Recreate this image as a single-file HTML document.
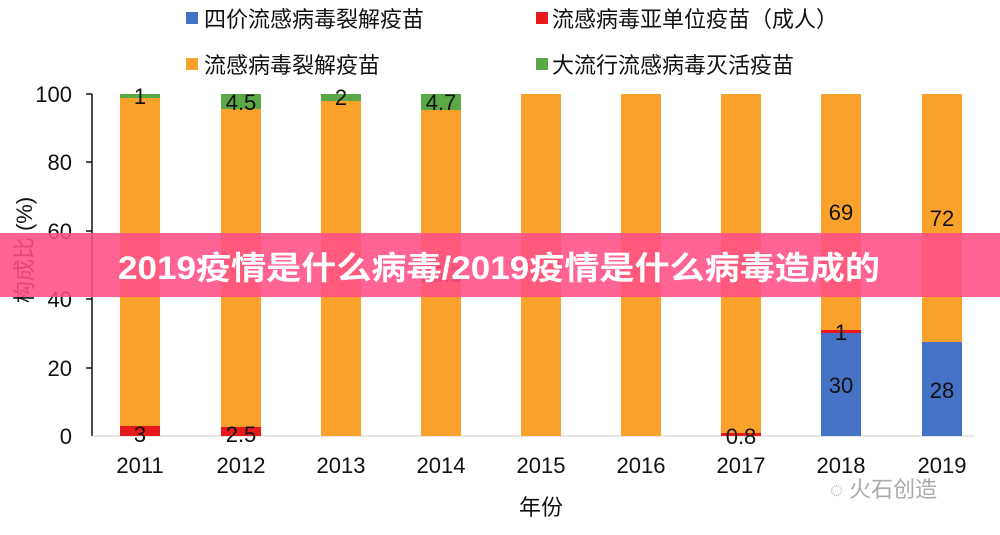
<!DOCTYPE html>
<html><head><meta charset="utf-8"><style>
body{margin:0;width:1000px;height:530px;background:#fff;overflow:hidden;}
svg text{font-family:"Liberation Sans","Noto Sans CJK SC",sans-serif;}
</style></head><body>
<svg width="1000" height="530" xmlns="http://www.w3.org/2000/svg">
<g font-size="22" fill="#111">
<rect x="186" y="12" width="12" height="12" fill="#4472c4"/><text x="204" y="27">四价流感病毒裂解疫苗</text>
<rect x="536" y="12" width="12" height="12" fill="#e8191b"/><text x="552" y="27">流感病毒亚单位疫苗（成人）</text>
<rect x="186" y="58" width="12" height="12" fill="#f9a12b"/><text x="204" y="73">流感病毒裂解疫苗</text>
<rect x="536" y="58" width="12" height="12" fill="#5aa846"/><text x="552" y="73">大流行流感病毒灭活疫苗</text>
</g>
<line x1="92" y1="94" x2="92" y2="436" stroke="#111" stroke-width="1.5"/>
<line x1="92" y1="436" x2="975" y2="436" stroke="#ccc" stroke-width="1"/>
<g stroke="#111" stroke-width="1.5">
<line x1="86" y1="94" x2="92" y2="94"/><line x1="86" y1="162" x2="92" y2="162"/><line x1="86" y1="231" x2="92" y2="231"/><line x1="86" y1="299" x2="92" y2="299"/><line x1="86" y1="368" x2="92" y2="368"/></g>
<g font-size="22" fill="#111" text-anchor="end">
<text x="72" y="102">100</text><text x="72" y="170">80</text><text x="72" y="239">60</text><text x="72" y="307">40</text><text x="72" y="376">20</text><text x="72" y="444">0</text></g>
<text transform="translate(32,250) rotate(-90)" font-size="22" text-anchor="middle" fill="#111">构成比 (%)</text>
<g>
<rect x="120" y="94" width="40" height="4" fill="#5aa846"/><rect x="120" y="98" width="40" height="328" fill="#f9a12b"/><rect x="120" y="426" width="40" height="10" fill="#e8191b"/>
<rect x="221" y="94" width="40" height="15" fill="#5aa846"/><rect x="221" y="109" width="40" height="318" fill="#f9a12b"/><rect x="221" y="427" width="40" height="9" fill="#e8191b"/>
<rect x="321" y="94" width="40" height="7" fill="#5aa846"/><rect x="321" y="101" width="40" height="335" fill="#f9a12b"/>
<rect x="421" y="94" width="40" height="16" fill="#5aa846"/><rect x="421" y="110" width="40" height="326" fill="#f9a12b"/>
<rect x="521" y="94" width="40" height="342" fill="#f9a12b"/>
<rect x="621" y="94" width="40" height="342" fill="#f9a12b"/>
<rect x="721" y="94" width="40" height="339" fill="#f9a12b"/><rect x="721" y="433" width="40" height="3" fill="#e8191b"/>
<rect x="821" y="94" width="40" height="236" fill="#f9a12b"/><rect x="821" y="330" width="40" height="3" fill="#e8191b"/><rect x="821" y="333" width="40" height="103" fill="#4472c4"/>
<rect x="922" y="94" width="40" height="248" fill="#f9a12b"/><rect x="922" y="342" width="40" height="94" fill="#4472c4"/>
</g>
<g font-size="22" fill="#111" text-anchor="middle">
<text x="140" y="104">1</text><text x="241" y="110">4.5</text><text x="341" y="105">2</text><text x="441" y="110">4.7</text>
<text x="441" y="282">95.3</text>
<text x="140" y="442">3</text><text x="241" y="442">2.5</text><text x="741" y="444">0.8</text>
<text x="841" y="220">69</text><text x="942" y="226">72</text>
<text x="841" y="340">1</text><text x="841" y="393">30</text><text x="942" y="398">28</text>
<text x="140" y="473">2011</text><text x="241" y="473">2012</text><text x="341" y="473">2013</text><text x="441" y="473">2014</text><text x="541" y="473">2015</text><text x="641" y="473">2016</text><text x="741" y="473">2017</text><text x="841" y="473">2018</text><text x="942" y="473">2019</text>
<text x="541" y="515">年份</text>
</g>
<text x="830" y="497" font-size="22" fill="#aaa">◌ 火石创造</text>
<rect x="0" y="233" width="1000" height="64" fill="#ff4f86" opacity="0.88"/>
<text x="118" y="279" font-size="32" font-weight="bold" fill="#fff" textLength="762" lengthAdjust="spacingAndGlyphs">2019疫情是什么病毒/2019疫情是什么病毒造成的</text>
</svg>
</body></html>
